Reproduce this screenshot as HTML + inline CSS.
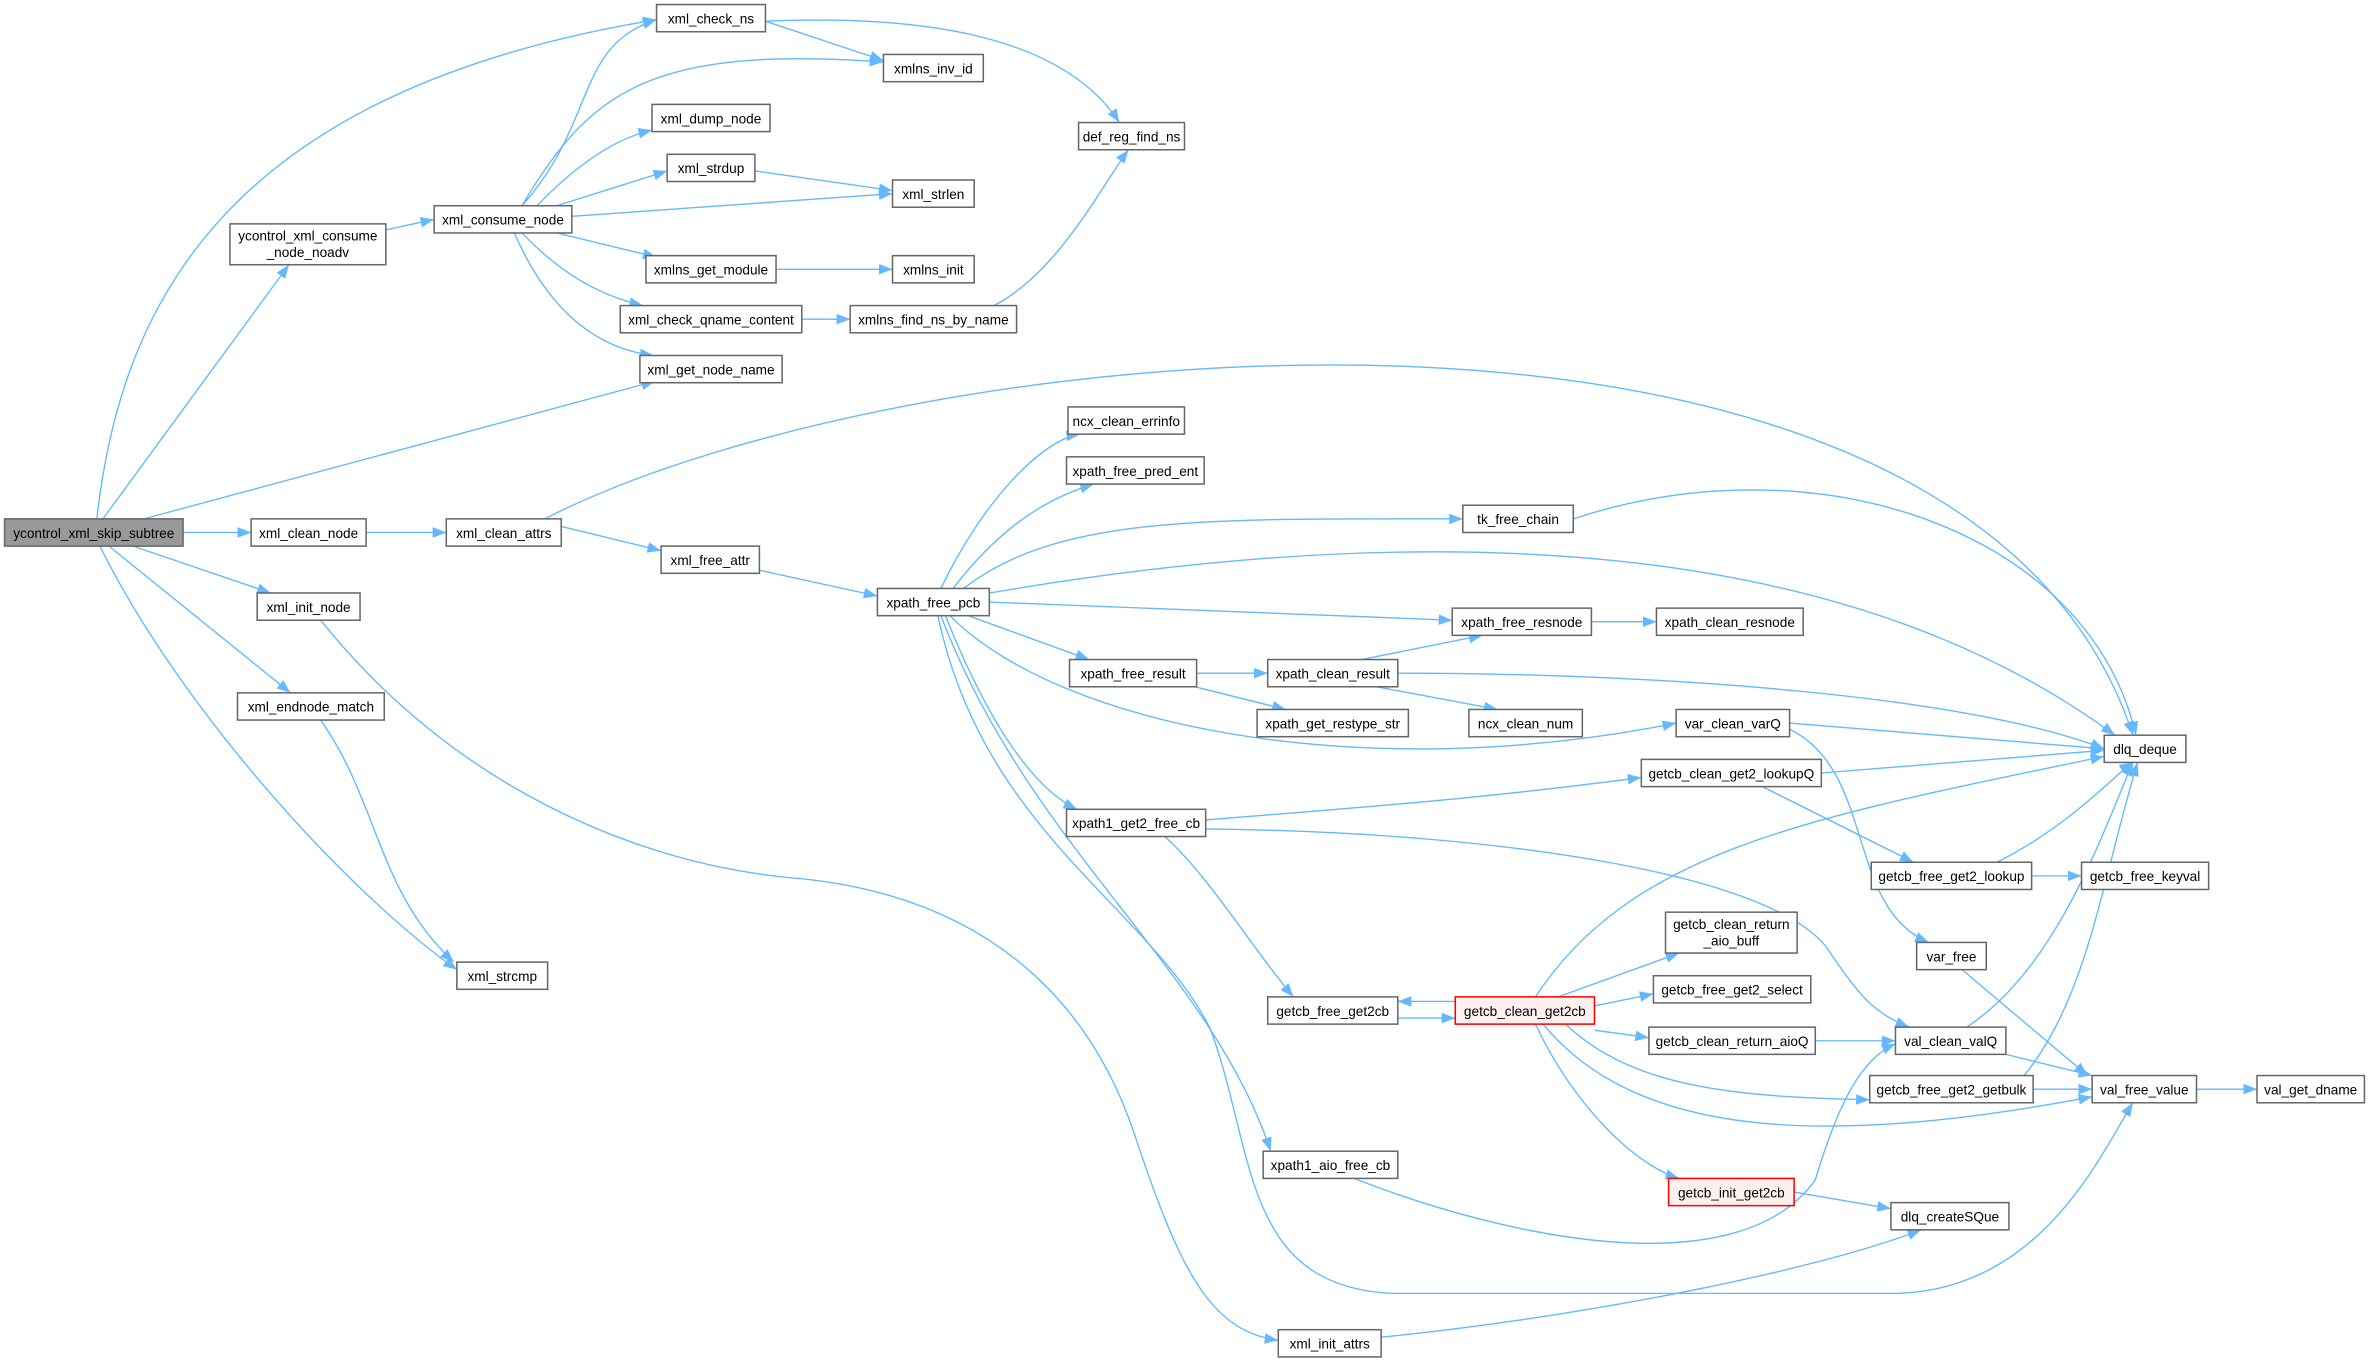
<!DOCTYPE html>
<html><head><meta charset="utf-8"><style>
html,body{margin:0;padding:0;background:#fff;}
svg{display:block;}
text{font-family:"Liberation Sans",sans-serif;font-size:9px;fill:#000;}
.n{fill:#fff;stroke:#666;stroke-width:1;}
.e{fill:none;stroke:#63b8ff;stroke-width:0.9;marker-end:url(#a);}
</style></head><body>
<svg width="2372" height="1361" viewBox="0 0 1568 899.7" xmlns="http://www.w3.org/2000/svg">
<defs><marker id="a" markerUnits="userSpaceOnUse" markerWidth="10" markerHeight="8" refX="9" refY="4" orient="auto"><path d="M0,0.5 L9,4 L0,7.5 z" fill="#63b8ff"/></marker></defs>
<g>
<path class="e" d="M64,343 C80,200 150,60 434,13"/>
<path class="e" d="M68,343 L191,175"/>
<path class="e" d="M95,343 L433,252"/>
<path class="e" d="M121,352 L166,352"/>
<path class="e" d="M88,361 L179,392"/>
<path class="e" d="M72,361 L192,458"/>
<path class="e" d="M66,361 C120,470 230,590 302,641"/>
<path class="e" d="M212,476 C250,530 250,590 300,636"/>
<path class="e" d="M255,152 L287,145"/>
<path class="e" d="M345,136 C395,80 380,30 434,13"/>
<path class="e" d="M345,136 C390,60 430,30 584,41"/>
<path class="e" d="M355,136 C380,110 405,92 431,86"/>
<path class="e" d="M368,136 L441,113"/>
<path class="e" d="M378,143 L590,128"/>
<path class="e" d="M368,154 L434,170"/>
<path class="e" d="M345,154 C370,180 395,195 425,202"/>
<path class="e" d="M340,154 C360,200 390,230 432,235"/>
<path class="e" d="M506,14 L584,40"/>
<path class="e" d="M506,14 C600,10 700,20 740,81"/>
<path class="e" d="M499,113 L590,126"/>
<path class="e" d="M513,178 L590,178"/>
<path class="e" d="M530,211 L562,211"/>
<path class="e" d="M657,202 C700,180 730,120 746,99"/>
<path class="e" d="M242,352 L295,352"/>
<path class="e" d="M360,343 C600,220 1300,150 1410,486"/>
<path class="e" d="M371,348 L437,364"/>
<path class="e" d="M502,377 L580,394"/>
<path class="e" d="M622,389 C650,330 690,290 714,287"/>
<path class="e" d="M630,389 C660,350 690,330 723,320"/>
<path class="e" d="M637,389 C700,340 800,343 967,343"/>
<path class="e" d="M654,392 C900,350 1200,340 1398,486"/>
<path class="e" d="M654,398 L960,410"/>
<path class="e" d="M640,407 L720,436"/>
<path class="e" d="M628,407 C700,480 900,520 1108,478"/>
<path class="e" d="M625,407 C650,470 680,520 712,535"/>
<path class="e" d="M620,407 C650,550 760,600 800,680 C830,760 820,850 920,855 L1250,855 C1350,855 1390,760 1410,729"/>
<path class="e" d="M622,407 C680,560 800,640 840,761"/>
<path class="e" d="M791,445 L838,445"/>
<path class="e" d="M790,454 L850,469"/>
<path class="e" d="M900,436 L980,420"/>
<path class="e" d="M910,454 L990,469"/>
<path class="e" d="M924,445 C1100,445 1300,460 1391,495"/>
<path class="e" d="M1052,411 L1095,411"/>
<path class="e" d="M1040,343 C1200,290 1380,350 1412,486"/>
<path class="e" d="M1183,478 L1391,495"/>
<path class="e" d="M1183,482 C1240,510 1220,600 1275,623"/>
<path class="e" d="M1204,511 L1391,496"/>
<path class="e" d="M1165,520 L1265,570"/>
<path class="e" d="M1320,570 C1370,545 1400,510 1410,504"/>
<path class="e" d="M1343,579 L1376,579"/>
<path class="e" d="M797,542 C950,530 1000,525 1085,514"/>
<path class="e" d="M797,548 C1000,550 1180,580 1210,630 C1230,660 1240,670 1262,679"/>
<path class="e" d="M770,553 C800,580 830,630 855,659"/>
<path class="e" d="M962,662 L924,662"/>
<path class="e" d="M924,673 L962,673"/>
<path class="e" d="M1015,659 C1080,560 1200,540 1391,500"/>
<path class="e" d="M1030,659 L1110,630"/>
<path class="e" d="M1054,665 L1093,657"/>
<path class="e" d="M1054,681 L1090,686"/>
<path class="e" d="M1035,677 C1080,720 1150,725 1236,727"/>
<path class="e" d="M1020,677 C1080,750 1200,760 1383,725"/>
<path class="e" d="M1015,677 C1040,730 1080,770 1110,779"/>
<path class="e" d="M1200,688 L1253,688"/>
<path class="e" d="M1300,679 C1360,640 1390,550 1410,504"/>
<path class="e" d="M1326,697 L1383,711"/>
<path class="e" d="M1338,711 C1380,660 1390,580 1413,504"/>
<path class="e" d="M1344,720 L1383,720"/>
<path class="e" d="M1297,641 L1380,711"/>
<path class="e" d="M1452,720 L1492,720"/>
<path class="e" d="M1186,788 L1250,799"/>
<path class="e" d="M895,779 C1000,820 1150,850 1200,780 C1215,730 1230,700 1253,690"/>
<path class="e" d="M212,410 C300,520 420,570 520,580 C650,590 720,660 750,750 C780,840 800,880 845,886"/>
<path class="e" d="M913,884 C1050,870 1200,840 1270,813"/>
</g>
<g>
<rect x="3" y="343" width="118" height="18" fill="#999" stroke="#666"/><text x="62" y="355.5" text-anchor="middle">ycontrol_xml_skip_subtree</text>
<rect class="n" x="152" y="148" width="103" height="27"/><text x="203.5" y="159" text-anchor="middle">ycontrol_xml_consume</text><text x="203.5" y="170" text-anchor="middle">_node_noadv</text>
<rect class="n" x="166" y="343" width="76" height="18"/><text x="204" y="355.5" text-anchor="middle">xml_clean_node</text>
<rect class="n" x="170" y="392" width="68" height="18"/><text x="204" y="404.5" text-anchor="middle">xml_init_node</text>
<rect class="n" x="157" y="458" width="97" height="18"/><text x="205.5" y="470.5" text-anchor="middle">xml_endnode_match</text>
<rect class="n" x="302" y="636" width="60" height="18"/><text x="332" y="648.5" text-anchor="middle">xml_strcmp</text>
<rect class="n" x="434" y="3" width="72" height="18"/><text x="470" y="15.5" text-anchor="middle">xml_check_ns</text>
<rect class="n" x="431" y="69" width="78" height="18"/><text x="470" y="81.5" text-anchor="middle">xml_dump_node</text>
<rect class="n" x="441" y="102" width="58" height="18"/><text x="470" y="114.5" text-anchor="middle">xml_strdup</text>
<rect class="n" x="287" y="136" width="91" height="18"/><text x="332.5" y="148.5" text-anchor="middle">xml_consume_node</text>
<rect class="n" x="427" y="169" width="86" height="18"/><text x="470" y="181.5" text-anchor="middle">xmlns_get_module</text>
<rect class="n" x="410" y="202" width="120" height="18"/><text x="470" y="214.5" text-anchor="middle">xml_check_qname_content</text>
<rect class="n" x="423" y="235" width="94" height="18"/><text x="470" y="247.5" text-anchor="middle">xml_get_node_name</text>
<rect class="n" x="295" y="343" width="76" height="18"/><text x="333" y="355.5" text-anchor="middle">xml_clean_attrs</text>
<rect class="n" x="437" y="361" width="65" height="18"/><text x="469.5" y="373.5" text-anchor="middle">xml_free_attr</text>
<rect class="n" x="584" y="36" width="66" height="18"/><text x="617" y="48.5" text-anchor="middle">xmlns_inv_id</text>
<rect class="n" x="590" y="119" width="54" height="18"/><text x="617" y="131.5" text-anchor="middle">xml_strlen</text>
<rect class="n" x="590" y="169" width="54" height="18"/><text x="617" y="181.5" text-anchor="middle">xmlns_init</text>
<rect class="n" x="562" y="202" width="110" height="18"/><text x="617" y="214.5" text-anchor="middle">xmlns_find_ns_by_name</text>
<rect class="n" x="713" y="81" width="70" height="18"/><text x="748" y="93.5" text-anchor="middle">def_reg_find_ns</text>
<rect class="n" x="706" y="269" width="77" height="18"/><text x="744.5" y="281.5" text-anchor="middle">ncx_clean_errinfo</text>
<rect class="n" x="705" y="302" width="91" height="18"/><text x="750.5" y="314.5" text-anchor="middle">xpath_free_pred_ent</text>
<rect class="n" x="580" y="389" width="74" height="18"/><text x="617" y="401.5" text-anchor="middle">xpath_free_pcb</text>
<rect class="n" x="707" y="436" width="84" height="18"/><text x="749" y="448.5" text-anchor="middle">xpath_free_result</text>
<rect class="n" x="705" y="535" width="92" height="18"/><text x="751" y="547.5" text-anchor="middle">xpath1_get2_free_cb</text>
<rect class="n" x="835" y="761" width="89" height="18"/><text x="879.5" y="773.5" text-anchor="middle">xpath1_aio_free_cb</text>
<rect class="n" x="845" y="879" width="68" height="18"/><text x="879" y="891.5" text-anchor="middle">xml_init_attrs</text>
<rect class="n" x="967" y="334" width="73" height="18"/><text x="1003.5" y="346.5" text-anchor="middle">tk_free_chain</text>
<rect class="n" x="960" y="402" width="92" height="18"/><text x="1006" y="414.5" text-anchor="middle">xpath_free_resnode</text>
<rect class="n" x="1095" y="402" width="97" height="18"/><text x="1143.5" y="414.5" text-anchor="middle">xpath_clean_resnode</text>
<rect class="n" x="838" y="436" width="86" height="18"/><text x="881" y="448.5" text-anchor="middle">xpath_clean_result</text>
<rect class="n" x="831" y="469" width="100" height="18"/><text x="881" y="481.5" text-anchor="middle">xpath_get_restype_str</text>
<rect class="n" x="971" y="469" width="75" height="18"/><text x="1008.5" y="481.5" text-anchor="middle">ncx_clean_num</text>
<rect class="n" x="1108" y="469" width="75" height="18"/><text x="1145.5" y="481.5" text-anchor="middle">var_clean_varQ</text>
<rect class="n" x="1085" y="502" width="119" height="18"/><text x="1144.5" y="514.5" text-anchor="middle">getcb_clean_get2_lookupQ</text>
<rect class="n" x="1391" y="486" width="54" height="18"/><text x="1418" y="498.5" text-anchor="middle">dlq_deque</text>
<rect class="n" x="1237" y="570" width="106" height="18"/><text x="1290" y="582.5" text-anchor="middle">getcb_free_get2_lookup</text>
<rect class="n" x="1376" y="570" width="84" height="18"/><text x="1418" y="582.5" text-anchor="middle">getcb_free_keyval</text>
<rect class="n" x="1101" y="603" width="87" height="27"/><text x="1144.5" y="614" text-anchor="middle">getcb_clean_return</text><text x="1144.5" y="625" text-anchor="middle">_aio_buff</text>
<rect class="n" x="1267" y="623" width="46" height="18"/><text x="1290" y="635.5" text-anchor="middle">var_free</text>
<rect class="n" x="1093" y="645" width="104" height="18"/><text x="1145" y="657.5" text-anchor="middle">getcb_free_get2_select</text>
<rect class="n" x="838" y="659" width="86" height="18"/><text x="881" y="671.5" text-anchor="middle">getcb_free_get2cb</text>
<rect x="962" y="659" width="92" height="18" fill="#fff0f0" stroke="#f00"/><text x="1008" y="671.5" text-anchor="middle">getcb_clean_get2cb</text>
<rect class="n" x="1090" y="679" width="110" height="18"/><text x="1145" y="691.5" text-anchor="middle">getcb_clean_return_aioQ</text>
<rect class="n" x="1253" y="679" width="73" height="18"/><text x="1289.5" y="691.5" text-anchor="middle">val_clean_valQ</text>
<rect class="n" x="1236" y="711" width="108" height="18"/><text x="1290" y="723.5" text-anchor="middle">getcb_free_get2_getbulk</text>
<rect class="n" x="1383" y="711" width="69" height="18"/><text x="1417.5" y="723.5" text-anchor="middle">val_free_value</text>
<rect class="n" x="1492" y="711" width="71" height="18"/><text x="1527.5" y="723.5" text-anchor="middle">val_get_dname</text>
<rect x="1103" y="779" width="83" height="18" fill="#fff0f0" stroke="#f00"/><text x="1144.5" y="791.5" text-anchor="middle">getcb_init_get2cb</text>
<rect class="n" x="1250" y="795" width="78" height="18"/><text x="1289" y="807.5" text-anchor="middle">dlq_createSQue</text>
</g>
</svg>
</body></html>
